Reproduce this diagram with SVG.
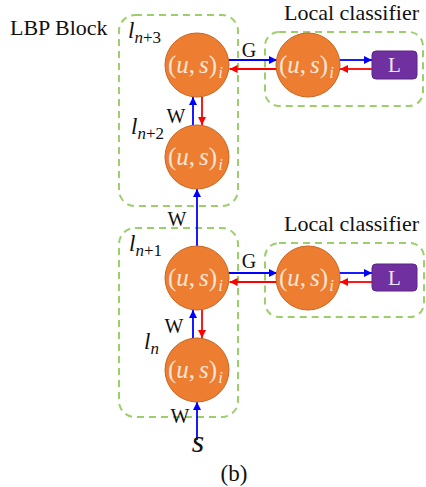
<svg xmlns="http://www.w3.org/2000/svg" width="426" height="487" viewBox="0 0 426 487">
<style>
text{font-family:"Liberation Serif","Times New Roman",serif;fill:#111}
.it{font-style:italic}
.up{font-style:normal}
.grp{fill:none;stroke:#9BCF6A;stroke-width:2;stroke-dasharray:7 5}
.node circle{fill:#ED7D31;stroke:#C8651F;stroke-width:1}
.nt{font-size:25px;fill:#FBE5D6}
.sub{font-size:17px}
.lbl{font-size:20px}
.ttl{font-size:22px}
.lx{font-size:23px;font-style:italic}
.ls{font-size:17px}
.lbox rect{fill:#7030A0;stroke:#5A2588;stroke-width:1}
.lbox text{font-size:21px;fill:#F2E6F8}
.b{stroke:#0000FF;stroke-width:1.8;fill:none;marker-end:url(#ab)}
.r{stroke:#FF0000;stroke-width:1.8;fill:none;marker-end:url(#ar)}
</style>
<defs>
<marker id="ab" viewBox="0 0 10 10" refX="10" refY="5" markerWidth="4.5" markerHeight="4.5" orient="auto" markerUnits="strokeWidth"><path d="M0,0 L10,5 L0,10 z" fill="#0000FF"/></marker>
<marker id="ar" viewBox="0 0 10 10" refX="10" refY="5" markerWidth="4.5" markerHeight="4.5" orient="auto" markerUnits="strokeWidth"><path d="M0,0 L10,5 L0,10 z" fill="#FF0000"/></marker>
</defs>

<g id="groups">
<rect class="grp" x="119" y="15" width="119" height="191" rx="16"/>
<rect class="grp" x="119" y="228" width="119" height="189" rx="16"/>
<rect class="grp" x="265" y="32" width="158" height="74" rx="14"/>
<rect class="grp" x="265" y="243" width="159" height="74" rx="14"/>
</g>

<g id="titles">
<text class="ttl" x="10" y="35">LBP Block</text>
<text class="ttl" x="284" y="20">Local classifier</text>
<text class="ttl" x="284" y="231">Local classifier</text>
<text x="234" y="481" font-size="23" text-anchor="middle">(b)</text>
</g>

<g id="connectors">
<line class="b" x1="229" y1="60" x2="277" y2="60"/>
<line class="r" x1="277" y1="69" x2="229.5" y2="69"/>
<line class="b" x1="340" y1="60" x2="372" y2="60"/>
<line class="r" x1="372" y1="69" x2="340" y2="69"/>
<line class="b" x1="229" y1="273" x2="277" y2="273"/>
<line class="r" x1="277" y1="282" x2="229.5" y2="282"/>
<line class="b" x1="340" y1="273" x2="372" y2="273"/>
<line class="r" x1="372" y1="282" x2="340" y2="282"/>
<line class="b" x1="193" y1="125" x2="193" y2="97"/>
<line class="r" x1="202" y1="97" x2="202" y2="125"/>
<line class="b" x1="197" y1="246" x2="197" y2="189"/>
<line class="b" x1="193" y1="338" x2="193" y2="310"/>
<line class="r" x1="202" y1="310" x2="202" y2="338"/>
<line class="b" x1="197" y1="440" x2="197" y2="402"/>
<text class="lbl" x="249" y="57" text-anchor="middle">G</text>
<text class="lbl" x="249" y="268" text-anchor="middle">G</text>
<text class="lbl" x="176" y="123" text-anchor="middle">W</text>
<text class="lbl" x="177" y="226" text-anchor="middle">W</text>
<text class="lbl" x="174" y="333" text-anchor="middle">W</text>
<text class="lbl" x="180" y="423" text-anchor="middle">W</text>
<text class="it" x="198" y="452" font-size="32" text-anchor="middle">s</text>
</g>

<g id="layer-labels">
<text class="lx" x="128" y="38">l<tspan class="ls" dy="5">n<tspan class="up">+3</tspan></tspan></text>
<text class="lx" x="131" y="134">l<tspan class="ls" dy="5">n<tspan class="up">+2</tspan></tspan></text>
<text class="lx" x="129" y="251">l<tspan class="ls" dy="5">n<tspan class="up">+1</tspan></tspan></text>
<text class="lx" x="144" y="349">l<tspan class="ls" dy="5">n</tspan></text>
</g>

<g id="node-n3" class="node"><circle cx="197" cy="65" r="32"/><text class="nt" x="168" y="73">(<tspan class="it">u</tspan>,<tspan class="it" dx="4">s</tspan>)<tspan class="it sub" dx="1" dy="5">i</tspan></text></g>
<g id="node-n2" class="node"><circle cx="197" cy="157" r="32"/><text class="nt" x="168" y="165">(<tspan class="it">u</tspan>,<tspan class="it" dx="4">s</tspan>)<tspan class="it sub" dx="1" dy="5">i</tspan></text></g>
<g id="node-n1" class="node"><circle cx="197" cy="278" r="32"/><text class="nt" x="168" y="286">(<tspan class="it">u</tspan>,<tspan class="it" dx="4">s</tspan>)<tspan class="it sub" dx="1" dy="5">i</tspan></text></g>
<g id="node-n0" class="node"><circle cx="197" cy="370" r="32"/><text class="nt" x="168" y="378">(<tspan class="it">u</tspan>,<tspan class="it" dx="4">s</tspan>)<tspan class="it sub" dx="1" dy="5">i</tspan></text></g>
<g id="node-c1" class="node"><circle cx="308" cy="65" r="32"/><text class="nt" x="279" y="73">(<tspan class="it">u</tspan>,<tspan class="it" dx="4">s</tspan>)<tspan class="it sub" dx="1" dy="5">i</tspan></text></g>
<g id="node-c2" class="node"><circle cx="308" cy="278" r="32"/><text class="nt" x="279" y="286">(<tspan class="it">u</tspan>,<tspan class="it" dx="4">s</tspan>)<tspan class="it sub" dx="1" dy="5">i</tspan></text></g>
<g id="L1" class="lbox"><rect x="372" y="51" width="45" height="28" rx="4"/><text x="394.5" y="72" text-anchor="middle">L</text></g>
<g id="L2" class="lbox"><rect x="372" y="264" width="45" height="27" rx="4"/><text x="394.5" y="285" text-anchor="middle">L</text></g>
</svg>
